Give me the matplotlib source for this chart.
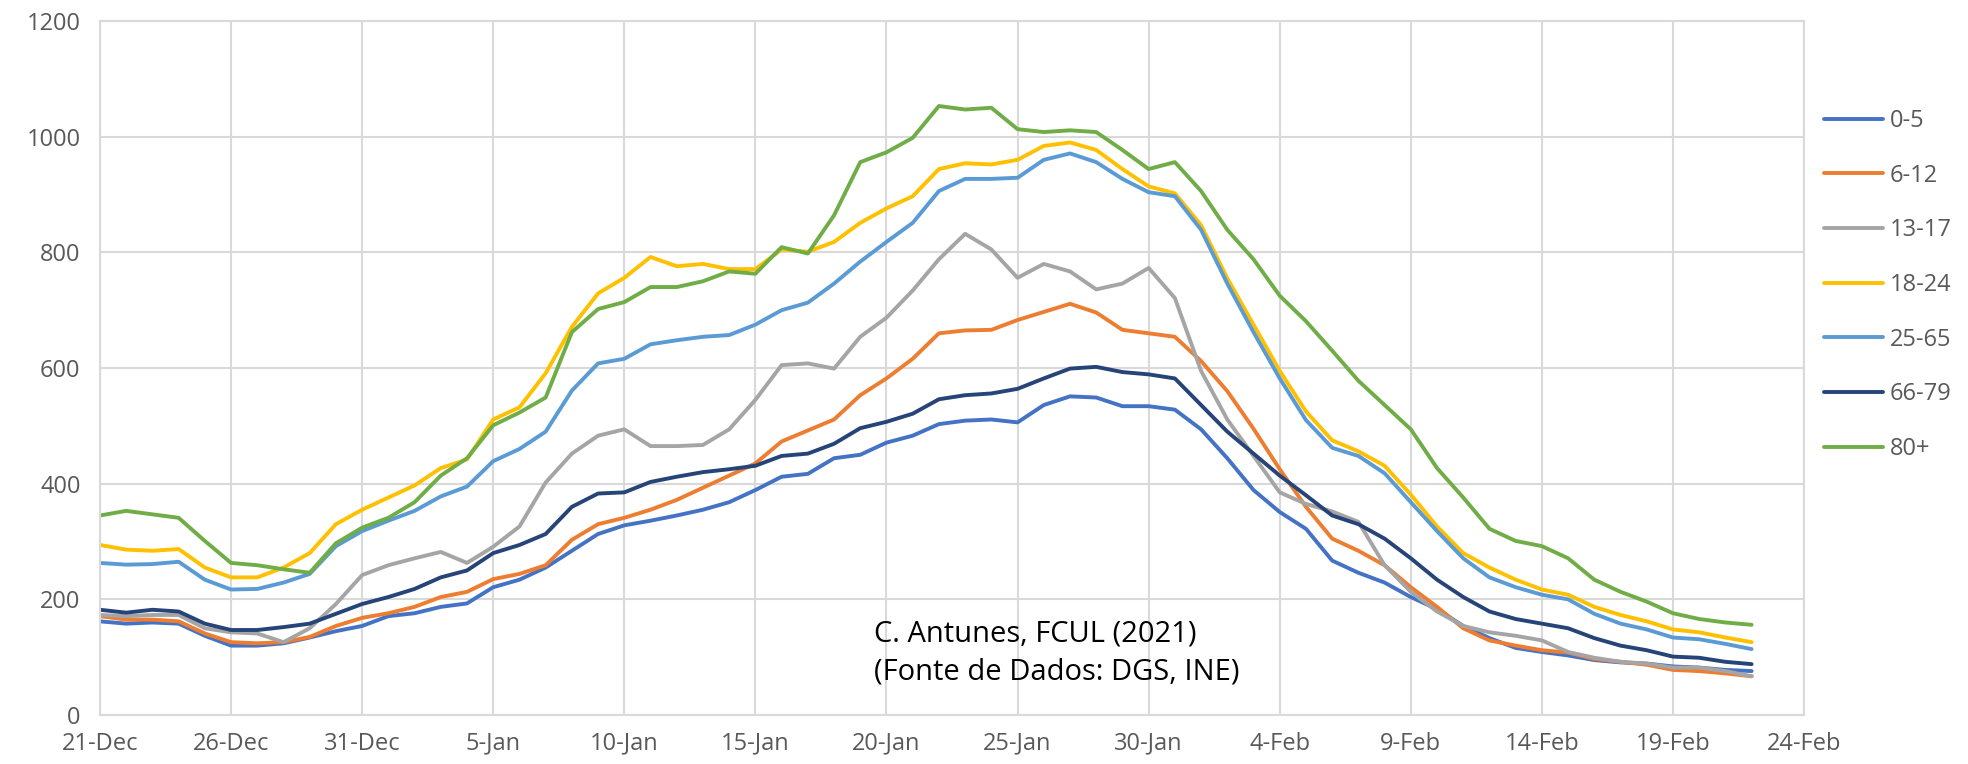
import pandas as pd
import matplotlib
matplotlib.use("Agg")
import matplotlib.pyplot as plt

plt.rcParams['font.family'] = ['Open Sans', 'DejaVu Sans']

dates = pd.date_range('2020-12-21', '2021-02-22', freq='D')

age_groups = ['0-5', '6-12', '13-17', '18-24', '25-65', '66-79', '80+']
colors = ['#4472C4', '#ED7D31', '#A5A5A5', '#FFC000', '#5B9BD5', '#264478', '#70AD47']

g_0_5 = [162, 158, 160, 158, 137, 120, 120, 124, 134, 145, 154, 171, 176, 187, 193, 221,
         234, 255, 284, 313, 328, 336, 345, 355, 368, 389, 412, 417, 444, 450, 471, 483,
         503, 509, 511, 506, 536, 551, 549, 534, 534, 528, 494, 444, 389, 351, 322, 267,
         246, 229, 204, 183, 154, 133, 116, 109, 103, 95, 91, 89, 84, 82, 78, 76]
g_6_12 = [171, 165, 165, 162, 141, 126, 124, 126, 135, 154, 168, 176, 187, 204, 213, 235,
          244, 259, 303, 330, 341, 355, 372, 393, 414, 435, 473, 492, 511, 553, 582, 616,
          660, 665, 666, 683, 697, 711, 696, 666, 660, 654, 612, 560, 495, 425, 360, 305,
          284, 259, 221, 187, 150, 129, 120, 112, 108, 97, 92, 87, 78, 76, 72, 67]
g_13_17 = [173, 171, 173, 173, 150, 143, 141, 126, 150, 192, 242, 259, 271, 282, 263, 291,
           326, 402, 452, 483, 494, 465, 465, 467, 494, 545, 605, 608, 599, 654, 687, 734,
           788, 832, 805, 756, 780, 767, 736, 746, 773, 721, 595, 511, 448, 385, 365, 352,
           334, 259, 213, 179, 154, 143, 137, 129, 109, 99, 92, 89, 82, 82, 76, 67]
g_18_24 = [294, 286, 284, 287, 255, 238, 238, 255, 280, 330, 355, 376, 397, 427, 442, 511,
           532, 591, 671, 729, 756, 792, 776, 780, 771, 771, 805, 801, 818, 851, 876, 897,
           944, 954, 952, 960, 984, 990, 977, 944, 914, 902, 847, 755, 675, 595, 525, 475,
           456, 431, 381, 326, 280, 255, 234, 217, 208, 187, 173, 162, 148, 143, 134, 126]
g_25_65 = [263, 260, 261, 265, 234, 217, 218, 229, 244, 292, 318, 336, 353, 378, 395, 439,
           460, 490, 561, 608, 616, 641, 648, 654, 657, 675, 700, 713, 746, 784, 818, 851,
           906, 927, 927, 929, 960, 971, 956, 927, 904, 897, 839, 746, 662, 582, 510, 462,
           448, 418, 368, 318, 271, 238, 221, 208, 200, 175, 158, 148, 134, 131, 123, 114]
g_66_79 = [182, 177, 182, 179, 158, 147, 147, 152, 158, 175, 192, 204, 218, 238, 250, 280,
           294, 313, 360, 383, 385, 403, 412, 420, 425, 431, 448, 452, 469, 496, 507, 521,
           546, 553, 556, 564, 582, 599, 602, 593, 589, 582, 536, 490, 452, 414, 380, 345,
           330, 305, 271, 234, 204, 179, 166, 158, 150, 133, 120, 112, 101, 99, 92, 88]
g_80 = [345, 353, 347, 341, 301, 263, 259, 252, 246, 297, 324, 341, 368, 414, 444, 501,
        523, 549, 662, 702, 714, 740, 740, 750, 767, 763, 809, 798, 864, 956, 973, 998,
        1053, 1047, 1050, 1013, 1008, 1011, 1008, 977, 944, 956, 906, 839, 788, 725, 681, 630,
        578, 536, 494, 427, 376, 322, 301, 292, 271, 234, 213, 196, 176, 166, 160, 156]

series = [g_0_5, g_6_12, g_13_17, g_18_24, g_25_65, g_66_79, g_80]

tick_dates = pd.date_range('2020-12-21', '2021-02-24', freq='5D')
tick_labels = ['21-Dec', '26-Dec', '31-Dec', '5-Jan', '10-Jan', '15-Jan', '20-Jan',
               '25-Jan', '30-Jan', '4-Feb', '9-Feb', '14-Feb', '19-Feb', '24-Feb']
y_ticks = [0, 200, 400, 600, 800, 1000, 1200]

fig = plt.figure(figsize=(19.68, 7.64), dpi=100)
ax = fig.add_axes([0.0508, 0.0641, 0.8659, 0.9084])

for vals, name, c in zip(series, age_groups, colors):
    ax.plot(dates, vals, color=c, lw=2.8, label=name,
            solid_joinstyle='round', solid_capstyle='round')

ax.set_xlim(tick_dates[0], tick_dates[-1])
ax.set_ylim(0, 1200)
ax.set_xticks(tick_dates)
ax.set_xticklabels(tick_labels)
ax.set_yticks(y_ticks)
ax.grid(True, color='#D9D9D9', lw=1.5)
ax.set_axisbelow(True)
for s in ax.spines.values():
    s.set_color('#D9D9D9')
    s.set_linewidth(1.5)
ax.tick_params(length=0, labelsize=17, colors='#595959')
ax.tick_params(axis='y', pad=14)
ax.tick_params(axis='x', pad=12)

# credit note inside the plot
ax.text(pd.Timestamp('2021-01-19 13:00'), 107,
        'C. Antunes, FCUL (2021)\n(Fonte de Dados: DGS, INE)',
        fontsize=21, color='black', ha='left', va='center', linespacing=1.4)

fig.legend(loc='center left', bbox_to_anchor=(0.9268, 0.627), frameon=False,
           fontsize=17, handlelength=2.5, handletextpad=0.3, labelspacing=1.3,
           borderpad=0, borderaxespad=0, labelcolor='#595959')

fig.savefig('out.png', dpi=100)
